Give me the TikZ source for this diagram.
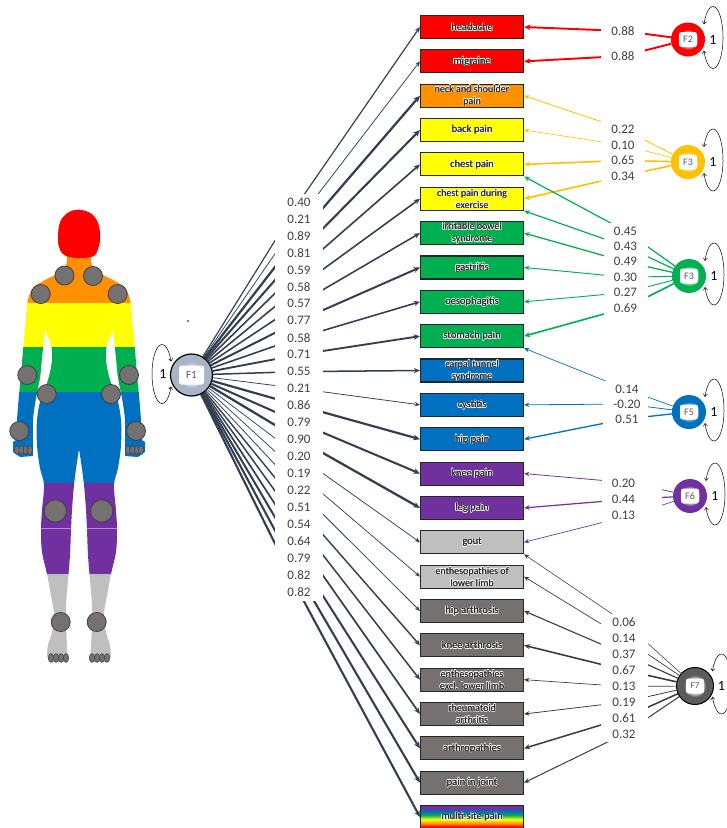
\documentclass[tikz,border=0pt]{standalone}
\usepackage{fontspec}
\setmainfont{Carlito}
\usetikzlibrary{arrows.meta}
\pgfdeclarelayer{bg}
\pgfsetlayers{bg,main}

\definecolor{cRed}{HTML}{FF0000}
\definecolor{cOrange}{HTML}{FF9000}
\definecolor{cYellow}{HTML}{FFFF00}
\definecolor{cGreen}{HTML}{00B050}
\definecolor{cBlue}{HTML}{0070C0}
\definecolor{cPurple}{HTML}{7030A0}
\definecolor{cLight}{HTML}{BFBFBF}
\definecolor{cDark}{HTML}{767171}
\definecolor{cAmber}{HTML}{FFC000}
\definecolor{pathF1}{HTML}{333F50}
\definecolor{pathF7}{HTML}{3A3A3A}
\definecolor{txtgrey}{HTML}{262626}
\definecolor{numgrey}{HTML}{404040}
\definecolor{ftxt}{HTML}{595959}
\definecolor{jointgrey}{HTML}{767171}
\definecolor{f1col}{HTML}{A9B5C7}
\definecolor{f7col}{HTML}{5C5C5C}
\colorlet{fcol}{red}

% soft white centre fading into the factor colour
\pgfdeclareradialshading[fcol]{facball}{\pgfpointorigin}{color(0bp)=(white); color(8bp)=(white); color(15bp)=(fcol); color(50bp)=(fcol)}
% rainbow fill of the multi-site box
\pgfdeclareverticalshading{rainbowfill}{100bp}{color(0bp)=(cRed); color(29bp)=(cRed); color(36bp)=(cOrange); color(45bp)=(cYellow); color(54bp)=(cGreen); color(62bp)=(cBlue); color(69bp)=(cPurple); color(100bp)=(cPurple)}

% dark text with a white glow around it
\newcommand\halo[1]{{\def\haloshift##1##2{\rlap{\raisebox{##2}{\kern##1\textcolor{white}{#1}}}}%
\haloshift{.6pt}{0pt}\haloshift{-.6pt}{0pt}\haloshift{0pt}{.6pt}\haloshift{0pt}{-.6pt}%
\haloshift{.45pt}{.45pt}\haloshift{-.45pt}{.45pt}\haloshift{.45pt}{-.45pt}\haloshift{-.45pt}{-.45pt}%
\rlap{\kern.22pt #1}#1}}

% horizontal colour bands of the body figure
\newcommand\bodybands{%
 \fill[cRed] (-20,200) rectangle (180,256);
 \fill[cOrange] (-20,256) rectangle (180,302.5);
 \fill[cYellow] (-20,302.5) rectangle (180,347);
 \fill[cGreen] (-20,347) rectangle (180,392);
 \fill[cBlue] (-20,392) rectangle (180,483);
 \fill[cPurple] (-20,483) rectangle (180,574);
 \fill[cLight] (-20,574) rectangle (180,680);
 \draw[cPurple!55!white, line width=0.6pt] (-20,528) -- (180,528);}

% left half of the silhouette (mirrored for the right half)
\newcommand\halfbody{(80,256) -- (67,256)
 -- plot[smooth, tension=0.6] coordinates {(67,256) (66,265) (58,273) (45,280) (34,287) (29,296) (27,306) (25,330) (23,350) (21,375) (19,395) (17,420) (16,440)}
 -- (13,442) -- (13,452) -- (20,457) -- (33,456) -- (33,441)
 -- plot[smooth, tension=0.6] coordinates {(33,441) (33,420) (36,398) (40,378) (42,358) (45,330)}
 -- plot[smooth, tension=0.6] coordinates {(45,330) (51,345) (52,360) (48,380) (41,398) (37,420) (37,445) (40,468) (44,485) (42,510) (41,530) (42,552) (47,574) (51,596) (54,614) (52,632) (48,645) (47,656)}
 -- (50,662) -- (68,662)
 -- plot[smooth, tension=0.6] coordinates {(68,662) (67,645) (66,625) (66,605) (68,580) (70,555) (71,530) (72,510) (74,485) (77,462) (79,449)}
 -- (80,449) -- cycle}

\begin{document}
\begin{tikzpicture}[x=1pt,y=-1pt,
 pbox/.style={draw=black!85, line width=1.1pt, minimum width=103pt, minimum height=23pt, inner sep=0pt, align=center, text=txtgrey, font=\fontsize{10.5}{12}\selectfont, fill=#1},
 pboxii/.style={pbox=#1, font=\fontsize{10}{12}\selectfont},
 lab/.style={fill=white, inner sep=0pt, minimum height=16pt, minimum width=44pt, text=numgrey, font=\fontsize{13}{15}\selectfont},
 labi/.style={lab, minimum width=48pt, minimum height=17pt},
 factor/.style={circle, inner sep=0pt, minimum size=34pt, /utils/exec={\colorlet{fcol}{#1}}, shade, shading=facball},
 fin/.style={fill=white, rounded corners=2.5pt, minimum width=18pt, minimum height=15pt, inner sep=0pt, text=ftxt, font=\fontsize{10}{12}\selectfont},
 f1line/.style={draw=pathF1, line width={0.3pt+2.2pt*#1}, -{Stealth[length=4.5pt 1, width=3.6pt 1]}},
 fline/.style 2 args={draw=#1, line width={0.45pt+1.7pt*abs(#2)}, -{Stealth[length=4.5pt 1, width=3.6pt 1]}},
 selfloop/.style={draw=black, line width=0.5pt, {Straight Barb[length=2.5pt,width=4pt]}-{Straight Barb[length=2.5pt,width=4pt]}},
 one/.style={font=\fontsize{14}{16}\selectfont, inner sep=0pt},
 joint/.style={fill=jointgrey, draw=black!75, line width=0.8pt}]
\useasboundingbox (0,0) rectangle (727,828);

% ---------------- body figure ----------------
\begin{scope}
 \clip \halfbody;
 \bodybands
\end{scope}
\begin{scope}[xshift=158pt, xscale=-1]
 \clip \halfbody;
 \bodybands
\end{scope}
\fill[cRed] plot[smooth cycle, tension=0.6] coordinates {(58,240) (59,226) (63,217) (71,211) (82,210) (93,215) (99,226) (100,240) (98,249) (94,256) (80,258) (66,256) (60,250)};

% joints
\foreach \jx/\jy in {64.5/275.5, 93/276, 40.7/294, 117.7/294, 27.3/375, 129/375, 46.7/394, 111/394, 19.3/431, 136/431, 60.7/622, 96.7/622}
 \draw[joint] (\jx,\jy) circle (9.5);
\draw[joint] (55.3,511) circle (11.2);
\draw[joint] (101.7,511) circle (11.2);
% fingers and toes
\foreach \fx in {17,21.3,25.6,30,128,132.4,136.7,141}
 \draw[joint, line width=0.5pt] (\fx,450) ellipse [x radius=2.4, y radius=4.3];
\foreach \fx in {51,56,61,66,92,97,102,107}
 \draw[joint, line width=0.5pt] (\fx,658) ellipse [x radius=2.7, y radius=4.4];
\fill[black] (188,321) circle (0.8);

% ---------------- indicator boxes ----------------
\node[pbox=cRed] (b0) at (472,27) {\halo{headache}};
\node[pbox=cRed] (b1) at (472,61.35) {\halo{migraine}};
\node[pboxii=cOrange] (b2) at (472,95.7) {\halo{neck and shoulder}\\\halo{pain}};
\node[pbox=cYellow] (b3) at (472,130.05) {\halo{back pain}};
\node[pbox=cYellow] (b4) at (472,164.4) {\halo{chest pain}};
\node[pboxii=cYellow] (b5) at (472,198.75) {\halo{chest pain during}\\\halo{exercise}};
\node[pboxii=cGreen] (b6) at (472,233.1) {\halo{irritable bowel}\\\halo{syndrome}};
\node[pbox=cGreen] (b7) at (472,267.45) {\halo{gastritis}};
\node[pbox=cGreen] (b8) at (472,301.8) {\halo{oesophagitis}};
\node[pbox=cGreen] (b9) at (472,336.15) {\halo{stomach pain}};
\node[pboxii=cBlue] (b10) at (472,370.5) {\halo{carpal tunnel}\\\halo{syndrome}};
\node[pbox=cBlue] (b11) at (472,404.85) {\halo{cystitis}};
\node[pbox=cBlue] (b12) at (472,439.2) {\halo{hip pain}};
\node[pbox=cPurple] (b13) at (472,473.55) {\halo{knee pain}};
\node[pbox=cPurple] (b14) at (472,507.9) {\halo{leg pain}};
\node[pbox=cLight] (b15) at (472,542.25) {\halo{gout}};
\node[pboxii=cLight] (b16) at (472,576.6) {\halo{enthesopathies of}\\\halo{lower limb}};
\node[pbox=cDark] (b17) at (472,610.95) {\halo{hip arthrosis}};
\node[pbox=cDark] (b18) at (472,645.3) {\halo{knee arthrosis}};
\node[pboxii=cDark] (b19) at (472,679.65) {\halo{enthesopathies}\\\halo{excl. lower limb}};
\node[pboxii=cDark] (b20) at (472,714) {\halo{rheumatoid}\\\halo{arthritis}};
\node[pbox=cDark] (b21) at (472,748.35) {\halo{arthropathies}};
\node[pbox=cDark] (b22) at (472,782.7) {\halo{pain in joint}};
\node[pbox=white, shade, shading=rainbowfill] (b23) at (472,817.05) {\halo{multi-site pain}};

% ---------------- general factor F1 ----------------
\node[factor=f1col, minimum size=42pt, draw=black, line width=1.2pt] (F1) at (191.5,375) {};
\node[fin, minimum width=25pt, minimum height=19pt, font=\fontsize{11}{13}\selectfont] (F1t) at (F1) {F1};
\draw[selfloop] ([shift={(-20.44,11.47)}]F1.center) arc[start angle=25, end angle=335, x radius=10, y radius=29.5];
\node[one] (F1v) at (163,374) {1};

\foreach \v [count=\i from 0] in {0.40,0.21,0.89,0.81,0.59,0.58,0.57,0.77,0.58,0.71,0.55,0.21,0.86,0.79,0.90,0.20,0.19,0.22,0.51,0.54,0.64,0.79,0.82,0.82}
 \node[labi] (a\i) at (299,{202+16.96*\i}) {\v};
\begin{pgfonlayer}{bg}
\foreach \v [count=\i from 0] in {0.40,0.21,0.89,0.81,0.59,0.58,0.57,0.77,0.58,0.71,0.55,0.21,0.86,0.79,0.90,0.20,0.19,0.22,0.51,0.54,0.64,0.79,0.82,0.82}
 \draw[f1line=\v] (F1) -- (a\i.center) -- (b\i.west);
\end{pgfonlayer}

% ---------------- specific factors ----------------
\node[factor=cRed] (F2) at (688,39.5) {};
\node[fin] at (F2) {F2};
\node[factor=cAmber] (F3a) at (688,162) {};
\node[fin] at (F3a) {F3};
\node[factor=cGreen] (F3b) at (689,276) {};
\node[fin] at (F3b) {F3};
\node[factor=cBlue] (F5) at (689,412) {};
\node[fin] at (F5) {F5};
\node[factor=cPurple] (F6) at (690,496) {};
\node[fin] at (F6) {F6};
\node[factor=f7col, minimum size=37pt, draw=black, line width=1pt] (F7) at (695,686) {};
\node[fin, font=\fontsize{9}{11}\selectfont] at (F7) {F7};

% variance loops
\foreach \f/\r/\ry in {F2/17/31, F3a/17/31, F3b/17/31, F5/17/31, F6/17/31, F7/18.5/30}{
 \draw[selfloop] ([shift={(\r-1.06,-2-0.4226*\ry)}]\f.center) arc[start angle=205, end angle=515, x radius=10, y radius=\ry];
 \node[one] at ([shift={(\r+8,0)}]\f.center) {1};
}

% loading labels
\node[lab] (r2a) at (623,31) {0.88};
\node[lab] (r2b) at (623,56) {0.88};
\node[lab] (r3a) at (623,129) {0.22};
\node[lab] (r3b) at (623,145) {0.10};
\node[lab] (r3c) at (623,160.5) {0.65};
\node[lab] (r3d) at (623,176) {0.34};
\node[lab] (r4a) at (625.5,231) {0.45};
\node[lab] (r4b) at (625.5,246.4) {0.43};
\node[lab] (r4c) at (625.5,261.8) {0.49};
\node[lab] (r4d) at (625.5,277.2) {0.30};
\node[lab] (r4e) at (625.5,292.6) {0.27};
\node[lab] (r4f) at (625.5,308) {0.69};
\node[lab, minimum width=45pt] (r5a) at (625.5,389) {\makebox[0pt]{\kern3pt 0.14}};
\node[lab, minimum width=45pt] (r5b) at (625.5,404) {\makebox[0pt]{\kern3pt -0.20}};
\node[lab, minimum width=45pt] (r5c) at (625.5,419) {\makebox[0pt]{\kern3pt 0.51}};
\node[lab, minimum width=60pt] (r6a) at (632,483) {\makebox[0pt]{\kern-17pt 0.20}};
\node[lab, minimum width=60pt] (r6b) at (632,499) {\makebox[0pt]{\kern-17pt 0.44}};
\node[lab, minimum width=60pt] (r6c) at (632,515) {\makebox[0pt]{\kern-17pt 0.13}};
\node[lab, minimum width=47pt] (r7a) at (624,622) {0.06};
\node[lab, minimum width=47pt] (r7b) at (624,638) {0.14};
\node[lab, minimum width=47pt] (r7c) at (624,654) {0.37};
\node[lab, minimum width=47pt] (r7d) at (624,670) {0.67};
\node[lab, minimum width=47pt] (r7e) at (624,686.5) {0.13};
\node[lab, minimum width=47pt] (r7f) at (624,702) {0.19};
\node[lab, minimum width=47pt] (r7g) at (624,718) {0.61};
\node[lab, minimum width=47pt] (r7h) at (624,734) {0.32};

\begin{pgfonlayer}{bg}
\draw[fline={cRed}{0.88}] (F2) -- (r2a.center) -- (b0.east);
\draw[fline={cRed}{0.88}] (F2) -- (r2b.center) -- (b1.east);
\draw[fline={cAmber}{0.22}] (F3a) -- (r3a.center) -- (b2.east);
\draw[fline={cAmber}{0.10}] (F3a) -- (r3b.center) -- (b3.east);
\draw[fline={cAmber}{0.65}] (F3a) -- (r3c.center) -- (b4.east);
\draw[fline={cAmber}{0.70}] (F3a) -- (r3d.center) -- (b5.east);
\draw[fline={cGreen}{0.45}] (F3b) -- (r4a.center) -- (b4.south east);
\draw[fline={cGreen}{0.43}] (F3b) -- (r4b.center) -- (b5.south east);
\draw[fline={cGreen}{0.49}] (F3b) -- (r4c.center) -- (b6.east);
\draw[fline={cGreen}{0.30}] (F3b) -- (r4d.center) -- (b7.east);
\draw[fline={cGreen}{0.27}] (F3b) -- (r4e.center) -- (b8.east);
\draw[fline={cGreen}{0.69}] (F3b) -- (r4f.center) -- (b9.east);
\draw[fline={cBlue}{0.14}] (F5) -- (r5a.center) -- (b9.south east);
\draw[fline={cBlue}{0.20}] (F5) -- (r5b.center) -- (b11.east);
\draw[fline={cBlue}{0.51}] (F5) -- (r5c.center) -- (b12.east);
\draw[fline={cPurple}{0.20}] (F6) -- (r6a.center) -- (b13.east);
\draw[fline={cPurple}{0.44}] (F6) -- (r6b.center) -- (b14.east);
\draw[fline={cPurple}{0.13}] (F6) -- (r6c.center) -- (b15.east);
\draw[fline={pathF7}{0.06}] (F7) -- (r7a.center) -- (b15.south east);
\draw[fline={pathF7}{0.14}] (F7) -- (r7b.center) -- (b16.east);
\draw[fline={pathF7}{0.37}] (F7) -- (r7c.center) -- (b17.east);
\draw[fline={pathF7}{0.67}] (F7) -- (r7d.center) -- (b18.east);
\draw[fline={pathF7}{0.13}] (F7) -- (r7e.center) -- (b19.east);
\draw[fline={pathF7}{0.19}] (F7) -- (r7f.center) -- (b20.east);
\draw[fline={pathF7}{0.61}] (F7) -- (r7g.center) -- (b21.east);
\draw[fline={pathF7}{0.32}] (F7) -- (r7h.center) -- (b22.east);
\end{pgfonlayer}
\end{tikzpicture}
\end{document}
